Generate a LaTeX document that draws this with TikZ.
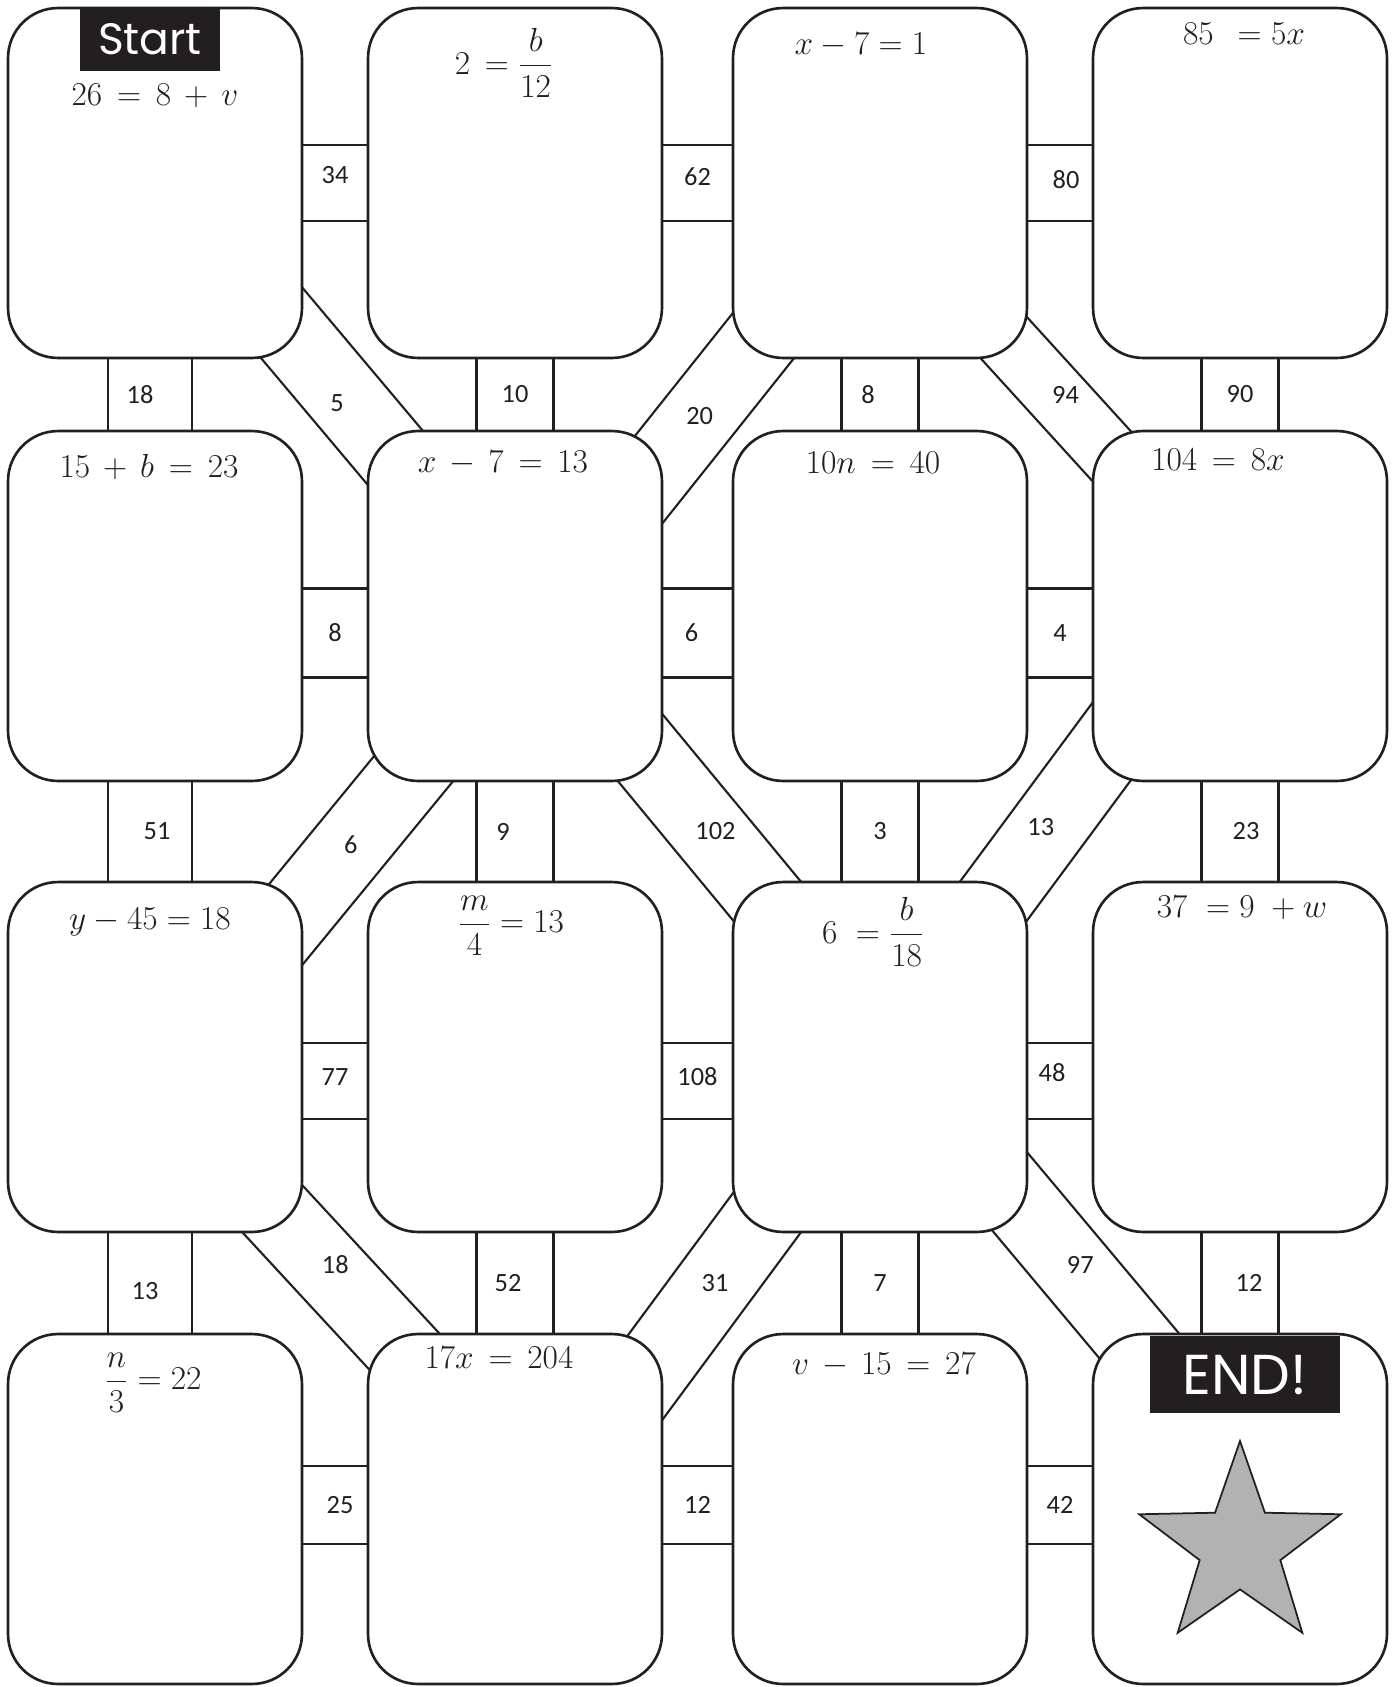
\RequirePackage{fix-cm}
\documentclass[tikz,border=0pt]{standalone}
\usepackage{amsmath}
\usepackage{fontspec}
\usepackage{tikz}
\usetikzlibrary{calc,backgrounds,shapes.geometric}
\newfontfamily\numfont{Carlito}
\newfontfamily\tagfont{Poppins}
\definecolor{ink}{HTML}{231F20}
\definecolor{stargray}{HTML}{B2B2B2}
% a bridge: two parallel lines from one card to the next, number in the middle
\newcommand{\bridge}[7][]{%
  \coordinate (ba) at ($(#2.center)+(#3)$);
  \coordinate (bb) at ($(#4.center)+(#5)$);
  \draw[bridgeline] ($(ba)!#6!90:(bb)$) -- ($(bb)!#6!-90:(ba)$)
    ($(ba)!#6!-90:(bb)$) -- ($(bb)!#6!90:(ba)$);
  \path (ba) -- node[numlab,#1] {#7} (bb);}

\begin{document}
\begin{tikzpicture}[x=0.02cm,y=-0.02cm,
  card/.style={draw=ink,line width=1.5pt,fill=white,rounded corners=1cm,minimum width=5.88cm,minimum height=7cm,inner sep=0pt},
  bridgeline/.style={draw=ink,line width=1.2pt},
  numlab/.style={font=\numfont\fontsize{15}{18}\selectfont,text=ink,inner sep=1pt},
  eqn/.style={font=\fontsize{19}{23}\selectfont,text=ink,inner sep=0pt},
  tagbox/.style={fill=ink,text=white,font=\tagfont\fontsize{25}{30}\selectfont,inner sep=0pt}]
\useasboundingbox (0,0) rectangle (1395,1687);

% cards
\node[card] (b11) at (155,183) {};
\node[card] (b12) at (515,183) {};
\node[card] (b13) at (880,183) {};
\node[card] (b14) at (1240,183) {};
\node[card] (b21) at (155,606) {};
\node[card] (b22) at (515,606) {};
\node[card] (b23) at (880,606) {};
\node[card] (b24) at (1240,606) {};
\node[card] (b31) at (155,1057) {};
\node[card] (b32) at (515,1057) {};
\node[card] (b33) at (880,1057) {};
\node[card] (b34) at (1240,1057) {};
\node[card] (b41) at (155,1509) {};
\node[card] (b42) at (515,1509) {};
\node[card] (b43) at (880,1509) {};
\node[card] (b44) at (1240,1509) {};

% equations
\node[eqn] (e11) at ($(b11.north)+(0,89)$) {$26\,=\,8\,+\,v$};
\node[eqn] (e12) at ($(b12.north)+(-11,56)$) {$2\,=\dfrac{b}{12}$};
\node[eqn] (e13) at ($(b13.north)+(-19,38)$) {$x-7=1$};
\node[eqn] (e14) at ($(b14.north)+(4,27)$) {$85\;\,=5x$};
\node[eqn] (e21) at ($(b21.north)+(-6,37)$) {$15\,+\,b\,=\,23$};
\node[eqn] (e22) at ($(b22.north)+(-12,33)$) {$x\,-\,7\,=\,13$};
\node[eqn] (e23) at ($(b23.north)+(-7,33)$) {$10n\,=\,40$};
\node[eqn] (e24) at ($(b24.north)+(-22,30)$) {$104\,=\,8x$};
\node[eqn] (e31) at ($(b31.north)+(-5,41)$) {$y-45=18$};
\node[eqn] (e32) at ($(b32.north)+(-4,45)$) {$\dfrac{m}{4}=13$};
\node[eqn] (e33) at ($(b33.north)+(-7,51)$) {$6\;=\dfrac{b}{18}$};
\node[eqn] (e34) at ($(b34.north)+(2,27)$) {$37\;=9\;+w$};
\node[eqn] (e41) at ($(b41.north)+(-2,50)$) {$\dfrac{n}{3}=22$};
\node[eqn] (e42) at ($(b42.north)+(-16,25)$) {$17x\,=\,204$};
\node[eqn] (e43) at ($(b43.north)+(4,32)$) {$v\,-\,15\,=\,27$};

% start and end
\node[tagbox,minimum width=2.82cm,minimum height=1.28cm] (start) at ($(b11.north)+(-5,32)$) {Start};
\node[tagbox,minimum width=3.79cm,minimum height=1.54cm,font=\tagfont\fontsize{32}{36}\selectfont] (end) at ($(b44.north)+(5,42)$) {END!};
\node[star,star points=5,star point ratio=2.5,minimum size=4.24cm,inner sep=0pt,fill=stargray,draw=ink,line width=1pt] (goal) at ($(b44.center)+(0,38)$) {};

\begin{scope}[on background layer]
% across
\bridge[yshift=.16cm]{b11}{0,0}{b12}{0,0}{.76cm}{34}
\bridge[yshift=.12cm]{b12}{0,0}{b13}{0,0}{.76cm}{62}
\bridge[xshift=.12cm,yshift=.06cm]{b13}{0,0}{b14}{0,0}{.76cm}{80}
\bridge{b21}{0,27}{b22}{0,27}{.89cm}{8}
\bridge[xshift=-.12cm]{b22}{0,27}{b23}{0,27}{.89cm}{6}
\bridge{b23}{0,27}{b24}{0,27}{.89cm}{4}
\bridge[yshift=.08cm]{b31}{0,24}{b32}{0,24}{.76cm}{77}
\bridge[yshift=.08cm]{b32}{0,24}{b33}{0,24}{.76cm}{108}
\bridge[xshift=-.16cm,yshift=.16cm]{b33}{0,24}{b34}{0,24}{.76cm}{48}
\bridge[xshift=.1cm]{b41}{0,-4}{b42}{0,-4}{.78cm}{25}
\bridge{b42}{0,-4}{b43}{0,-4}{.78cm}{12}
\bridge{b43}{0,-4}{b44}{0,-4}{.78cm}{42}
% down
\bridge[xshift=-.2cm]{b11}{-5,0}{b21}{-5,0}{.84cm}{18}
\bridge{b12}{0,0}{b22}{0,0}{.77cm}{10}
\bridge[xshift=-.24cm]{b13}{0,0}{b23}{0,0}{.77cm}{8}
\bridge{b14}{0,0}{b24}{0,0}{.77cm}{90}
\bridge[xshift=.14cm]{b21}{-5,0}{b31}{-5,0}{.84cm}{51}
\bridge[xshift=-.24cm]{b22}{0,0}{b32}{0,0}{.77cm}{9}
\bridge{b23}{0,0}{b33}{0,0}{.77cm}{3}
\bridge[xshift=.12cm]{b24}{0,0}{b34}{0,0}{.77cm}{23}
\bridge[xshift=-.1cm,yshift=-.16cm]{b31}{-5,0}{b41}{-5,0}{.84cm}{13}
\bridge[xshift=-.14cm]{b32}{0,0}{b42}{0,0}{.77cm}{52}
\bridge{b33}{0,0}{b43}{0,0}{.77cm}{7}
\bridge[xshift=.18cm]{b34}{0,0}{b44}{0,0}{.77cm}{12}
% diagonals
\bridge[pos=.52,xshift=-.24cm]{b11}{9,0}{b22}{5,0}{.77cm}{5}
\bridge[pos=.55]{b13}{5,0}{b22}{33,0}{.76cm}{20}
\bridge[xshift=.2cm]{b13}{-17,0}{b24}{8,0}{.62cm}{94}
\bridge[pos=.53]{b22}{32,0}{b31}{22,0}{.77cm}{6}
\bridge[xshift=.12cm]{b22}{8,0}{b33}{16,0}{.77cm}{102}
\bridge[pos=.49,xshift=-.15cm]{b24}{-28,0}{b33}{-2,0}{.77cm}{13}
\bridge[pos=.46,xshift=.22cm]{b31}{-23,0}{b42}{35,0}{.76cm}{18}
\bridge{b33}{2,0}{b42}{33,0}{.78cm}{31}
\bridge[pos=.46,xshift=.18cm]{b33}{17,0}{b44}{36,0}{.77cm}{97}
\end{scope}
\end{tikzpicture}
\end{document}
